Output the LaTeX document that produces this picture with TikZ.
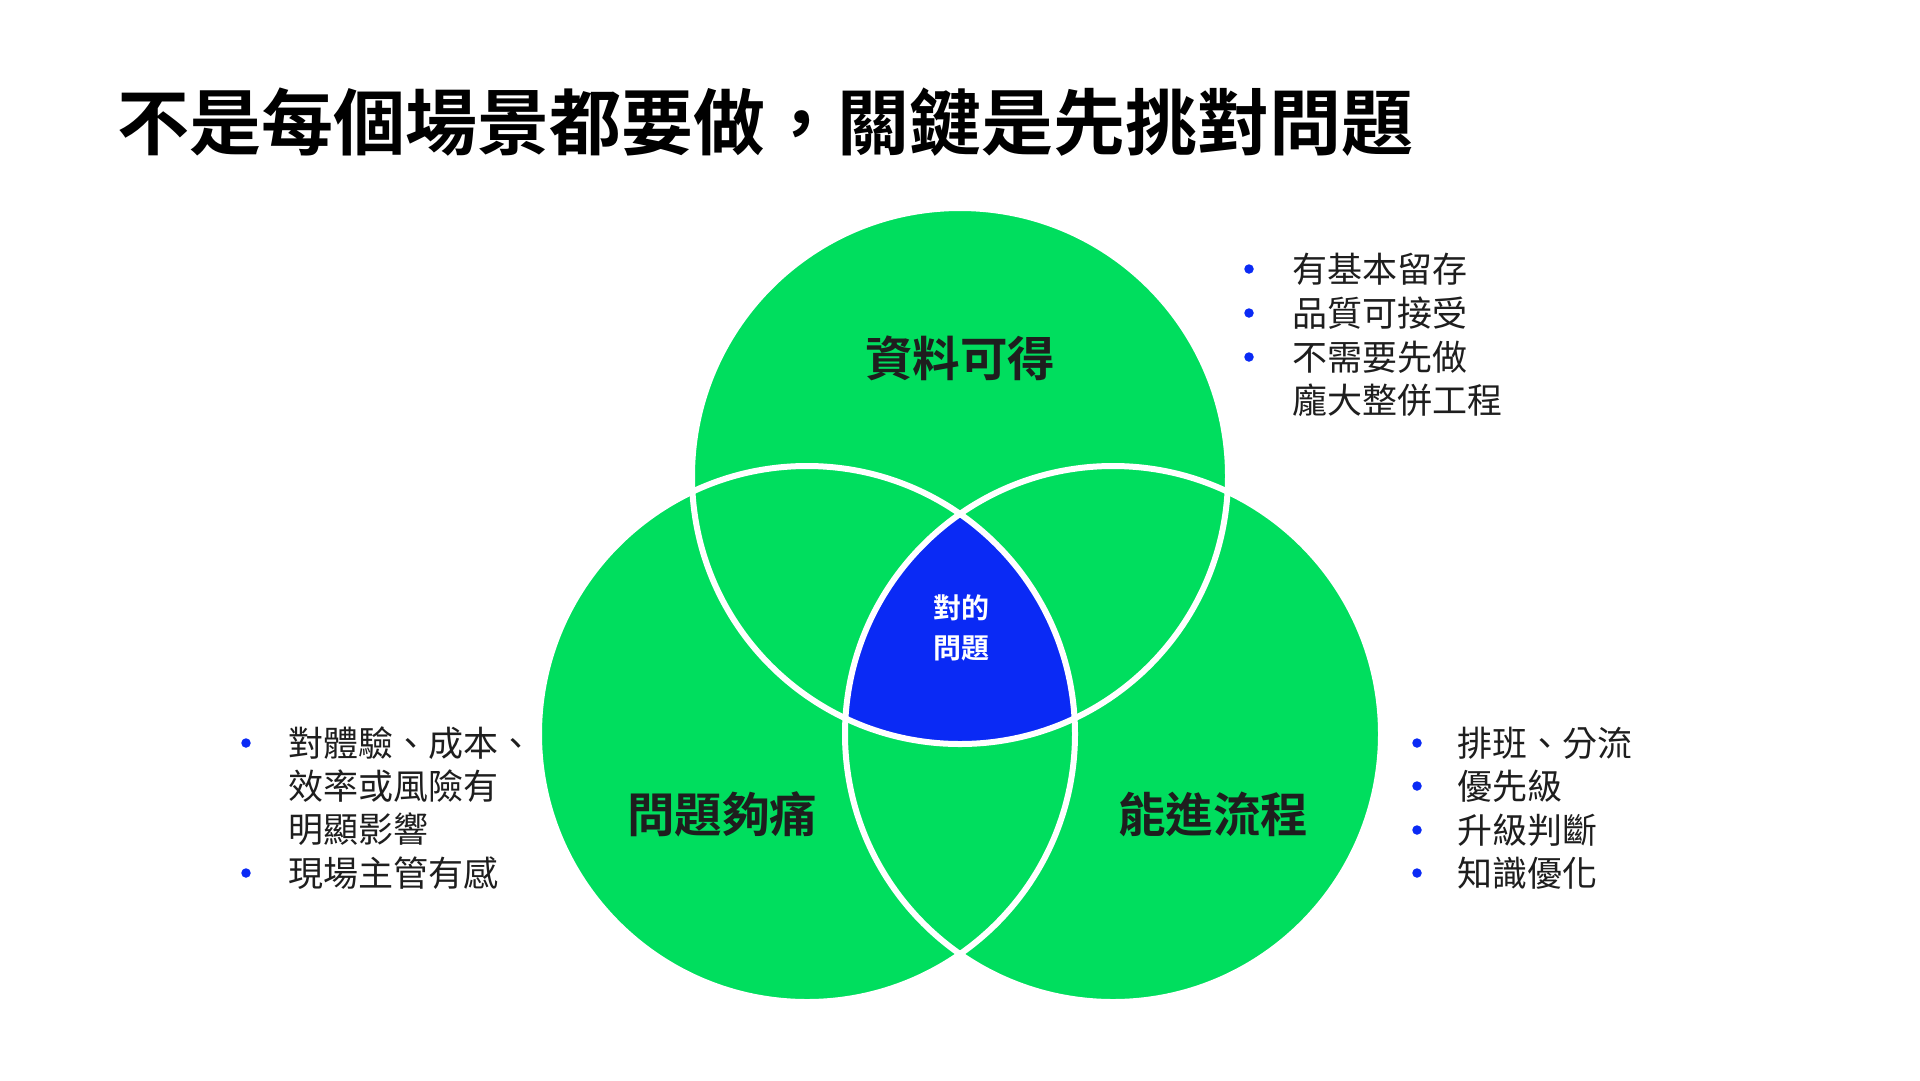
\documentclass[tikz,border=0pt]{standalone}
\usepackage{fontspec}
\setmainfont{Noto Sans CJK TC}[BoldFont={Noto Sans CJK TC Bold}]
\definecolor{vgreen}{HTML}{00DE5E}
\definecolor{vblue}{HTML}{0A2AF5}
\definecolor{ink}{HTML}{1E1E1E}
\tikzset{
  ring/.style={white, line width=6pt},
  biglbl/.style={font=\fontsize{47.5}{52}\selectfont\bfseries, text=ink, inner sep=0pt},
  item/.style={anchor=west, font=\fontsize{35}{40}\selectfont, text=ink, inner sep=0pt},
  dotmark/.style={circle, fill=vblue, inner sep=0pt, minimum size=9.5pt},
}
\begin{document}
\begin{tikzpicture}[x=1pt,y=-1pt]
\useasboundingbox (0,0) rectangle (1920,1080);
\fill[white] (0,0) rectangle (1920,1080);
% title
\node[anchor=west, inner sep=0pt, font=\fontsize{72}{78}\selectfont\bfseries, text=black] (title) at (117,122) {不是每個場景都要做，關鍵是先挑對問題};
% circles
\coordinate (T) at (960,476);
\coordinate (L) at (807,734);
\coordinate (R) at (1113,734);
\fill[vgreen] (T) circle (268pt);
\fill[vgreen] (L) circle (268pt);
\fill[vgreen] (R) circle (268pt);
\begin{scope}
  \clip (L) circle (268pt);
  \clip (R) circle (268pt);
  \fill[vblue] (T) circle (268pt);
\end{scope}
\draw[ring] (T) circle (268pt);
\draw[ring] (L) circle (268pt);
\draw[ring] (R) circle (268pt);
% labels
\node[biglbl] (lt) at (960,358) {資料可得};
\node[biglbl] (ll) at (722,814) {問題夠痛};
\node[biglbl] (lr) at (1213,814) {能進流程};
\node[align=center, text=white, inner sep=0pt, font=\fontsize{28}{40}\selectfont\bfseries] (lc) at (961,628) {對的\\問題};
% top-right list
\node[dotmark] (d1) at (1249,269) {};
\node[dotmark] (d2) at (1249,313) {};
\node[dotmark] (d3) at (1249,357) {};
\node[item] (t1) at (1292,269) {有基本留存};
\node[item] (t2) at (1292,313) {品質可接受};
\node[item] (t3) at (1292,357) {不需要先做};
\node[item] (t4) at (1292,400) {龐大整併工程};
% left list
\node[dotmark] (e1) at (246,743) {};
\node[dotmark] (e2) at (246,873) {};
\node[item] (s1) at (288,743) {對體驗、成本、};
\node[item] (s2) at (288,786) {效率或風險有};
\node[item] (s3) at (288,829) {明顯影響};
\node[item] (s4) at (288,873) {現場主管有感};
% right list
\node[dotmark] (f1) at (1417,743) {};
\node[dotmark] (f2) at (1417,786) {};
\node[dotmark] (f3) at (1417,830) {};
\node[dotmark] (f4) at (1417,873) {};
\node[item] (r1) at (1457,743) {排班、分流};
\node[item] (r2) at (1457,786) {優先級};
\node[item] (r3) at (1457,830) {升級判斷};
\node[item] (r4) at (1457,873) {知識優化};
\end{tikzpicture}
\end{document}
